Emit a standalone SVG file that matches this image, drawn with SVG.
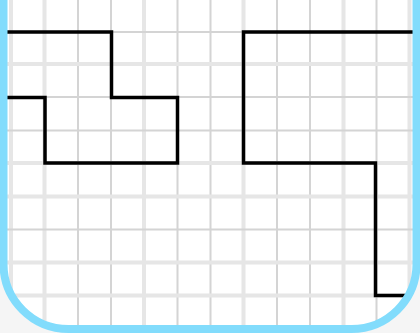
<svg xmlns="http://www.w3.org/2000/svg" width="420" height="333" viewBox="0 0 420 333">
  <style>
    .g { stroke: #d4d4d4; stroke-width: 2; fill: none; }
    .gl { stroke: #e6e6e6; stroke-width: 4; fill: none; }
    .shape { stroke: #000; stroke-width: 3.5; fill: none; stroke-linejoin: miter; stroke-linecap: butt; }
    .frame { stroke: #82dcfc; stroke-width: 8; fill: none; }
  </style>
  <defs>
    <clipPath id="inner">
      <rect x="3.5" y="-80" width="413" height="409" rx="65" ry="65"/>
    </clipPath>
  </defs>
  <rect x="0" y="0" width="420" height="333" fill="#f5f5f5"/>
  <g id="paper" clip-path="url(#inner)">
    <rect x="0" y="-80" width="420" height="420" fill="#ffffff"/>
    <g id="grid-v">
      <line class="gl" x1="11" y1="0" x2="11" y2="333"/>
      <line class="gl" x1="44.5" y1="0" x2="44.5" y2="333"/>
      <line class="g" x1="78" y1="0" x2="78" y2="333"/>
      <line class="g" x1="111" y1="0" x2="111" y2="333"/>
      <line class="gl" x1="144" y1="0" x2="144" y2="333"/>
      <line class="g" x1="177.5" y1="0" x2="177.5" y2="333"/>
      <line class="g" x1="210.5" y1="0" x2="210.5" y2="333"/>
      <line class="gl" x1="243.5" y1="0" x2="243.5" y2="333"/>
      <line class="g" x1="277" y1="0" x2="277" y2="333"/>
      <line class="g" x1="310" y1="0" x2="310" y2="333"/>
      <line class="gl" x1="343.5" y1="0" x2="343.5" y2="333"/>
      <line class="g" x1="376.5" y1="0" x2="376.5" y2="333"/>
      <line class="gl" x1="409.5" y1="0" x2="409.5" y2="333"/>
    </g>
    <g id="grid-h">
      <line class="g" x1="0" y1="32" x2="420" y2="32"/>
      <line class="gl" x1="0" y1="64" x2="420" y2="64"/>
      <line class="g" x1="0" y1="97" x2="420" y2="97"/>
      <line class="g" x1="0" y1="130.5" x2="420" y2="130.5"/>
      <line class="gl" x1="0" y1="163" x2="420" y2="163"/>
      <line class="gl" x1="0" y1="196.5" x2="420" y2="196.5"/>
      <line class="g" x1="0" y1="229.5" x2="420" y2="229.5"/>
      <line class="gl" x1="0" y1="262.5" x2="420" y2="262.5"/>
      <line class="gl" x1="0" y1="295.5" x2="420" y2="295.5"/>
    </g>
    <g id="shapes">
      <path id="left-shape" class="shape" d="M 0 32 H 111.5 V 97.5 H 177.5 V 163 H 45 V 97.5 H 0"/>
      <path id="right-shape" class="shape" d="M 420 32 H 243.5 V 163 H 375.5 V 295.5 H 420"/>
    </g>
  </g>
  <rect id="frame" class="frame" x="3.5" y="-80" width="413" height="409" rx="65" ry="65"/>
</svg>
